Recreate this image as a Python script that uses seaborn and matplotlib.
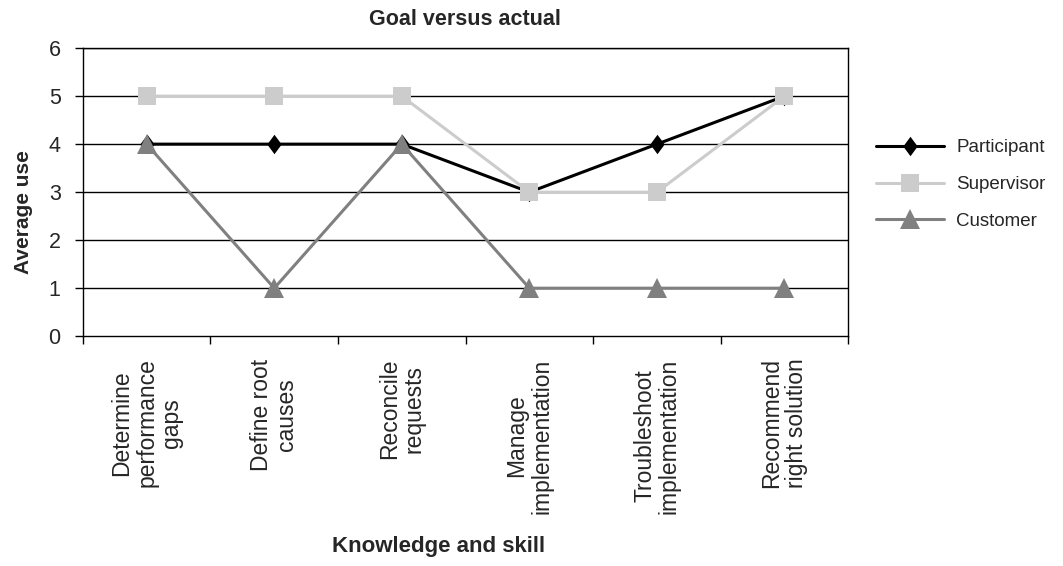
import matplotlib
matplotlib.use("Agg")
import matplotlib.pyplot as plt
import seaborn as sns
import pandas as pd
import numpy as np

categories = ["Determine\nperformance\ngaps", "Define root\ncauses", "Reconcile\nrequests",
              "Manage\nimplementation", "Troubleshoot\nimplementation", "Recommend\nright solution"]
participant = [4, 4, 4, 3, 4, 5]
supervisor = [5, 5, 5, 3, 3, 5]
customer = [4, 1, 4, 1, 1, 1]
series_names = ["Participant", "Supervisor", "Customer"]
y_ticks = [0, 1, 2, 3, 4, 5, 6]

sns.set_theme(style="white")
plt.rcParams['font.family'] = ['Liberation Sans', 'DejaVu Sans']

rows = []
for name, vals in zip(series_names, [participant, supervisor, customer]):
    for i, v in enumerate(vals):
        rows.append({"pos": i, "value": v, "series": name})
df = pd.DataFrame(rows)

fig = plt.figure(figsize=(10.63, 5.66), dpi=100)
ax = fig.add_axes([0.078, 0.406, 0.72, 0.509])

tall_diamond = [(0, 1), (0.74, 0), (0, -1), (-0.74, 0), (0, 1)]
palette = {"Participant": "#000000", "Supervisor": "#CCCCCC", "Customer": "#808080"}
markers = {"Participant": tall_diamond, "Supervisor": "s", "Customer": "^"}
sizes = {"Participant": 14, "Supervisor": 12.5, "Customer": 14}
for name in series_names:
    sub = df[df.series == name]
    sns.lineplot(data=sub, x="pos", y="value", ax=ax, color=palette[name],
                 marker=markers[name], markersize=sizes[name], markeredgecolor=palette[name],
                 markeredgewidth=0, linewidth=2.2, label=name, legend=False)

ax.set_xlim(-0.5, len(categories) - 0.5)
ax.set_ylim(0, 6)
ax.set_yticks(y_ticks)
ax.set_yticklabels([str(t) for t in y_ticks], fontsize=15.5)
for t in y_ticks[1:]:
    ax.axhline(t, color="black", linewidth=1, zorder=0)

ax.set_xticks(range(len(categories)))
ax.set_xticklabels(categories, rotation=90, fontsize=16.5, multialignment="center", linespacing=1.1)
ax.set_xticks(np.arange(-0.5, len(categories) + 0.5, 1), minor=True)
ax.tick_params(axis="x", which="major", length=0, pad=16)
ax.tick_params(axis="x", which="minor", length=6, width=1, color="black", direction="out", bottom=True)
ax.tick_params(axis="y", which="major", length=6, width=1, color="black", direction="out", left=True, pad=10)

for s in ax.spines.values():
    s.set_visible(True)
    s.set_color("black")
    s.set_linewidth(1)

ax.set_xlabel("")
ax.set_ylabel("")
fig.text(0.4375, 0.965, "Goal versus actual", ha="center", va="center", fontsize=15.5, fontweight="bold")
fig.text(0.413, 0.034, "Knowledge and skill", ha="center", va="center", fontsize=16, fontweight="bold")
fig.text(0.022, 0.625, "Average use", ha="center", va="center", rotation=90, fontsize=15, fontweight="bold")

handles, labels = ax.get_legend_handles_labels()
fig.legend(handles, labels, loc="center left", bbox_to_anchor=(0.8245, 0.674), frameon=False,
           fontsize=13.5, handlelength=3.6, handletextpad=0.65, labelspacing=1.05, borderaxespad=0,
           borderpad=0)

fig.savefig("out.png", dpi=100)
